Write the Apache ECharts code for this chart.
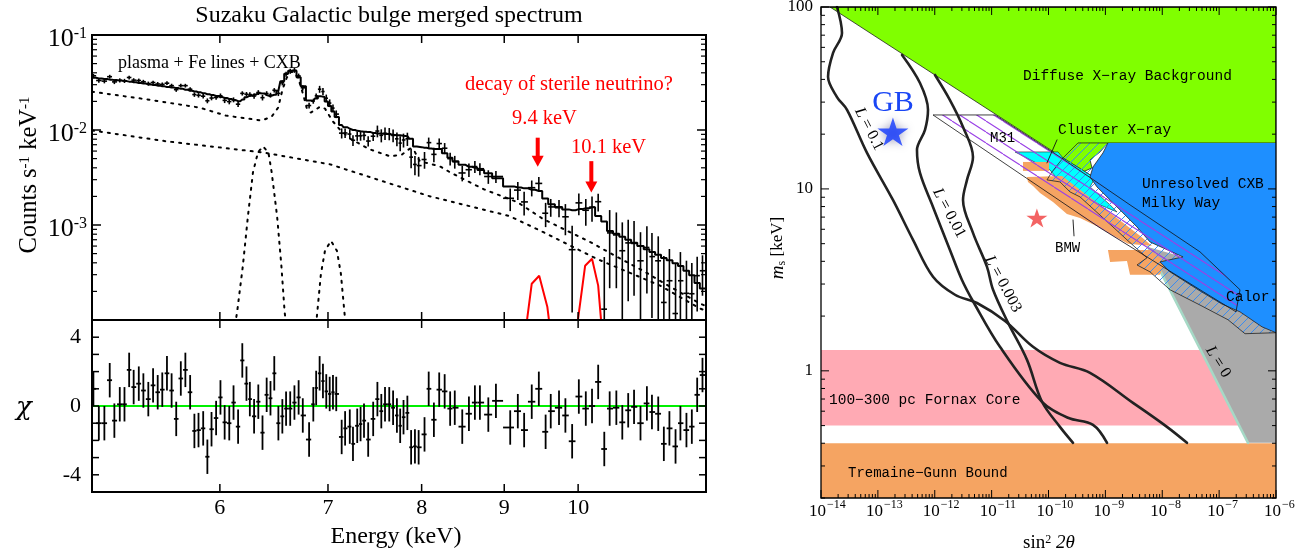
<!DOCTYPE html>
<html><head><meta charset="utf-8">
<script src="https://cdn.jsdelivr.net/npm/echarts/dist/echarts.min.js"></script>
<style>html,body{margin:0;padding:0;background:#fff}#c{width:1309px;height:555px}</style>
</head><body><div id="c"></div>
<script>
// ================= LEFT PANEL DATA (Suzaku Galactic bulge spectrum) =================
const energy = [5.01,5.049,5.089,5.128,5.162,5.202,5.237,5.272,5.306,5.345,5.380,5.418,5.455,5.491,5.527,5.564,5.601,5.638,5.675,5.712,5.751,5.786,5.820,5.859,5.894,5.929,5.968,
6.005,6.041,6.081,6.118,6.158,6.195,6.232,6.262,6.300,6.338,6.376,6.414,6.449,6.484,6.522,6.559,6.594,6.633,6.673,6.713,6.753,6.814,6.855,6.883,
6.917,6.950,6.983,7.017,7.050,7.083,7.138,7.173,7.221,7.254,7.298,7.333,7.369,7.413,7.466,
7.511,7.553,7.593,7.639,7.681,7.723,7.759,7.796,7.839,7.881,7.924,7.966,8.033,8.081,8.141,8.203,8.267,8.332,8.387,8.477,8.558,8.631,8.693,8.798,8.894,
9.077,9.176,9.259,9.360,9.455,9.547,9.617,9.731,
9.82,9.915,10.01,10.11,10.20,10.29,10.38,
10.46,10.56,10.65,10.74,10.83,10.93,11.03,11.11,11.21,11.30,11.39,11.49,11.57,11.67,11.76,11.85,11.94];

const counts = [0.0372,0.0332,0.0327,0.0364,0.0321,0.0333,0.0329,0.0357,0.0335,0.0332,0.0322,0.0308,0.0316,0.0305,0.0302,0.0311,0.0293,0.0266,0.0293,0.0293,0.0269,0.0236,0.0232,0.0227,0.0203,0.0217,0.0220,
0.0229,0.0205,0.0199,0.0208,0.0187,0.0243,0.0238,0.0236,0.0228,0.0248,0.0219,0.0242,0.0233,0.0262,0.0243,0.0314,0.0387,0.0416,0.0425,0.0371,0.0278,0.0181,0.0201,0.0229,
0.0269,0.0254,0.0216,0.0192,0.0170,0.0147,0.00927,0.00931,0.00906,0.0078,0.00867,0.00868,0.00878,0.00765,0.0086,
0.00975,0.00879,0.00924,0.00914,0.00877,0.00807,0.00728,0.00785,0.00808,0.00518,0.00434,0.00422,0.00489,0.00736,0.00554,0.0072,0.00643,0.00499,0.00463,0.00353,0.00382,0.00412,0.00391,0.00324,0.00324,
0.00191,0.00233,0.00175,0.00247,0.00274,0.00133,0.00155,0.00152,
0.00122,0.00055,0.00171,0.00143,0.00154,0.00176,0.00013,
0.000826,0.000786,0.000536,0.000648,0.00064,0.00042,0.00058,0.000465,0.00042,0.000153,0.000259,0.000117,0.000259,0.000191,0.000189,0.000293,0.00033];

const countErr = [0.00177,0.00175,0.00172,0.0017,0.00168,0.00166,0.00164,0.00162,0.00159,0.00156,0.00154,0.00151,0.00149,0.00147,0.00144,0.00142,0.0014,0.00138,0.00136,0.00133,0.0013,0.00127,0.00125,0.00122,0.00119,0.00117,0.00114,
0.00133,0.0013,0.00127,0.00124,0.00121,0.00126,0.00133,0.00138,0.00142,0.00146,0.00145,0.0014,0.00136,0.00141,0.00155,0.00196,0.00235,0.00252,0.00252,0.00216,0.00173,0.00123,0.0012,0.00129,
0.00226,0.00222,0.00199,0.00179,0.00157,0.00137,0.00113,0.00107,0.00103,0.001,0.00098,0.00097,0.00096,0.00095,0.00093,
0.00138,0.00138,0.00137,0.00135,0.00134,0.00132,0.00132,0.00131,0.00129,0.00122,0.001,0.00099,0.00098,0.00096,0.00095,0.00095,0.00086,0.00077,0.00071,0.00065,0.00062,0.0006,0.00057,0.00053,0.00047,
0.00051,0.0005,0.00049,0.00047,0.00046,0.00038,0.00033,0.00031,
0.00044,0.00043,0.00044,0.00045,0.00046,0.00037,0.00033,
0.00061,0.00057,0.00053,0.00049,0.00046,0.00042,0.00039,0.00036,0.00034,0.00032,0.0003,0.00028,0.00026,0.00023,0.00021,0.00017,0.00015];

const model = [0.0354,0.0349,0.0344,0.0339,0.0335,0.0331,0.0327,0.0323,0.0318,0.0312,0.0308,0.0302,0.0298,0.0293,0.0288,0.0284,0.0280,0.0276,0.0271,0.0265,0.0259,0.0254,0.0249,0.0243,0.0238,0.0233,0.0228,
0.0222,0.0217,0.0212,0.0206,0.0201,0.0210,0.0221,0.0230,0.0236,0.0244,0.0242,0.0233,0.0227,0.0235,0.0259,0.0326,0.0391,0.0420,0.0420,0.0360,0.0288,0.0205,0.0200,0.0215,
0.0226,0.0222,0.0199,0.0179,0.0157,0.0137,0.0113,0.0107,0.0103,0.0100,0.0098,0.0097,0.0096,0.0095,0.0093,
0.0092,0.0092,0.0091,0.0090,0.0089,0.0088,0.0088,0.0087,0.0086,0.0081,0.0067,0.0066,0.0065,0.0064,0.0063,0.0063,0.0057,0.0051,0.0047,0.0043,0.0041,0.0040,0.0038,0.0035,0.0031,
0.00255,0.00248,0.00243,0.00235,0.00228,0.00190,0.00165,0.00155,
0.00146,0.00143,0.00147,0.00150,0.00154,0.00124,0.00109,
0.000865,0.00081,0.00075,0.0007,0.00065,0.0006,0.000555,0.00052,0.000485,0.00045,0.000425,0.000395,0.00037,0.00033,0.000296,0.000245,0.000214];

const chi = [1.0,-1.0,-1.0,1.5,-0.85,0.1,0.1,2.1,1.1,1.3,0.9,0.4,1.2,0.8,0.95,1.9,0.9,-0.75,1.6,2.1,0.8,-1.45,-1.4,-1.3,-2.95,-1.35,-0.7,
0.5,-0.95,-1.0,0.2,-1.2,2.65,1.3,0.4,-0.6,0.25,-1.55,0.65,0.45,1.9,-1.0,-0.6,-0.15,-0.15,0.2,0.5,-0.55,-1.95,0.1,1.05,
1.9,1.45,0.85,0.7,0.8,0.7,-1.8,-1.3,-1.2,-2.2,-1.15,-1.05,-0.85,-1.95,-0.75,
0.4,-0.3,0.1,0.1,-0.1,-0.55,-1.15,-0.65,-0.4,-2.4,-2.35,-2.4,-1.65,1.0,-0.8,0.95,0.85,-0.15,-0.1,-1.2,-0.45,0.2,0.2,-0.5,0.3,
-1.25,-0.3,-1.4,0.25,1.0,-1.5,-0.3,-0.1,
-0.55,-2.05,0.55,-0.15,0.0,1.4,-2.5,
-0.15,-0.1,-0.95,-0.25,-0.05,-1.0,0.15,-0.35,-0.45,-2.2,-1.3,-2.35,-1.0,-1.4,-1.2,0.65,1.8];
const chiErrBar = 1;

// model components (dotted)
const plasmaE = [5.00,5.43,5.83,6.05,6.37,6.46,6.52,6.56,6.60,6.64,6.68,6.72,6.76,6.79,6.83,6.88,6.92,6.97,7.05,7.12,7.22,7.43,7.65,7.78,7.87,7.92,7.98,8.21,8.33,8.74,9.17,9.51,9.79,10.17,10.57,10.97,11.40,11.90,12.0];
const plasmaV = [0.0253,0.0208,0.0172,0.0142,0.01258,0.01384,0.0172,0.0265,0.0355,0.0410,0.0400,0.0322,0.0230,0.0172,0.01525,0.0164,0.0176,0.0168,0.01228,0.0101,0.00815,0.00625,0.00528,0.00553,0.0064,0.00595,0.00468,0.00415,0.00359,0.00238,0.00174,0.00116,0.00091,0.000664,0.000462,0.00033,0.000224,0.000149,0.00014];
const cxbE = [5.0,5.56,6.38,7.02,8.09,9.07,9.51,10.27,11.24,11.90,12.0];
const cxbV = [0.00989,0.0076,0.0058,0.00435,0.00201,0.00124,0.000845,0.00044,0.00023,0.000132,0.000125];
const fe64E = [6.10,6.15,6.20,6.245,6.29,6.335,6.38,6.43,6.46,6.51,6.55,6.58,6.62];
const fe64V = [5e-5,1.23e-4,3.72e-4,1.24e-3,3.59e-3,5.81e-3,6.72e-3,5.81e-3,3.59e-3,1.24e-3,3.72e-4,1.23e-4,5e-5];
const feKbE = [6.86,6.89,6.93,6.97,7.03,7.09,7.13,7.17,7.20];
const feKbV = [5e-5,1.09e-4,3.07e-4,5.35e-4,6.8e-4,5.35e-4,3.07e-4,1.09e-4,5e-5];
// sterile neutrino lines (red)
const nu94E = [9.28,9.30,9.36,9.46,9.57,9.59,9.61];
const nu94V = [5e-5,1.04e-4,2.41e-4,2.92e-4,1.38e-4,1.04e-4,5e-5];
const nu101E = [9.98,10.0,10.10,10.20,10.29,10.33,10.35];
const nu101V = [5e-5,1.04e-4,3.72e-4,4.41e-4,2.3e-4,1.04e-4,5e-5];
// arrows [energy, start, end]
const arrows = [[9.44,0.0083,0.0041],[10.19,0.0047,0.0022]];

const energyTicks = [6,7,8,9,10];
const countDecadeExp = [-4,-3,-2,-1];
const chiTicks = [-4,-3,-2,-1,0,1,2,3,4];
const chiLabelTicks = [-4,0,4];

// ================= RIGHT PANEL DATA (sterile neutrino parameter space) =================
const tgTop = 0.40;
const fornaxBand = [0.50, 1.30];
const dxbRegion = [[1.44e-14,100],[1e-6,100],[1e-6,17.9],[1.11e-9,17.9],[8.04e-10,15.97],[5.37e-10,14.43],[5.82e-10,13.05],[4.04e-10,12.40],[6.57e-10,11.49],[1.80e-10,14.80]];
const clusterRegion = [[2.58e-11,15.97],[1.47e-10,15.97],[1.80e-10,14.80],[6.57e-10,11.49],[5.37e-10,10.26],[1.21e-9,8.17],[1.60e-9,7.47],[8.04e-10,8.17],[3.58e-10,9.51],[1.59e-10,10.93],[1.06e-10,12.72]];
const cxbMilkyWayRegion = [[1.11e-9,17.9],[1e-6,17.9],[1e-6,1.62],[5.68e-7,1.745],[2.33e-7,2.11],[1.12e-7,2.33],[4.61e-8,2.75],[1.37e-8,3.50],[9.13e-9,3.97],[2.32e-8,4.23],[6.09e-9,5.11],[3.60e-9,6.18],[1.21e-9,8.70],[7.12e-10,10.26],[5.37e-10,11.64],[6.06e-10,13.21],[9.08e-10,15.77]];
const calorRegion = [[1.80e-10,14.80],[3.30e-10,17.9],[1.11e-9,17.9],[9.08e-10,15.77],[6.06e-10,13.21],[5.37e-10,11.64],[7.12e-10,10.26],[1.21e-9,8.70],[3.60e-9,6.18],[6.09e-9,5.11],[2.32e-8,4.23],[9.13e-9,3.97],[1.37e-8,3.50],[4.61e-8,2.75],[1.12e-7,2.33],[2.33e-7,2.11],[5.68e-7,1.745],[1e-6,1.62],
 [2.85e-7,1.60],[1.43e-7,1.91],[4.61e-8,2.30],[1.37e-8,2.79],[6.09e-9,3.50],[3.60e-9,3.82],[5.39e-9,4.18],[2.40e-9,5.25],[1.36e-9,6.18],[3.58e-10,9.04],[2.39e-10,9.63],[1.59e-10,10.93],[9.41e-11,11.21],[1.15e-10,12.40]];
const lZeroRegion = [[3.22e-7,0.402],[5.61e-9,4.80],[2.32e-8,4.23],[1e-6,1.62],[1e-6,0.402]];
const bmwTop = [[3.56e-11,14.07],[1.02e-10,14.07],[1.02e-10,12.56],[3.56e-11,12.56]];
const bmwMain = [[4.19e-11,11.64],[1.73e-10,11.79],[8.04e-10,8.17],[4.06e-9,5.52],[6.60e-9,4.86],[2.50e-9,4.99],[1.21e-9,5.66],[8.04e-10,6.11],[3.58e-10,6.93],[2.11e-10,7.29],[1.20e-10,8.48],[7.09e-11,9.51],[5.34e-11,10.39],[4.36e-11,10.93]];
const bmwLow = [[1.11e-9,4.62],[6.09e-9,4.62],[1.12e-8,3.97],[9.13e-9,3.37],[2.71e-9,3.37],[2.40e-9,4.02],[1.21e-9,3.97]];
const m31Region = [[9.32e-13,25.5],[1.15e-11,25.5],[1.59e-10,14.99],[2.71e-9,8.17],[4.61e-8,4.51],[2.33e-7,2.79],[1.98e-7,2.11],[4.61e-8,2.79],[8.04e-10,6.11]];
const curveL01 = [[1.91e-14,100],[2.34e-14,71.9],[1.63e-14,55.9],[1.33e-14,41.3],[1.91e-14,32.0],[2.87e-14,27.2],[6.44e-14,15.77],[1.84e-13,8.70],[4.15e-13,5.25],[9.32e-13,3.29],[2.27e-12,2.62],[5.53e-12,2.36],[1.72e-11,1.88],[5.34e-11,1.355],[1.59e-10,1.107],[5.37e-10,0.975],[3.06e-9,0.667],[1.21e-8,0.492],[2.72e-8,0.402]];
const curveL001 = [[2.66e-13,54.5],[5.50e-13,38.2],[7.61e-13,27.2],[6.74e-13,21.1],[4.87e-13,16.38],[5.50e-13,12.24],[9.32e-13,7.96],[1.85e-12,4.62],[3.01e-12,3.16],[4.90e-12,2.36],[1.40e-11,1.355],[7.69e-11,0.676],[2.20e-10,0.552],[6.06e-10,0.505],[1.07e-9,0.402]];
const curveL0003 = [[1.01e-12,42.3],[1.85e-12,30.8],[3.14e-12,21.9],[4.70e-12,14.99],[3.69e-12,11.21],[3.14e-12,8.70],[4.70e-12,5.73],[8.29e-12,3.73],[1.06e-11,2.79],[1.94e-11,1.84],[4.19e-11,1.149],[7.69e-11,0.676],[1.59e-10,0.492],[2.70e-10,0.402]];
const gbStar = [1.84e-13, 20.6];
const redStar = [6.25e-11, 6.93];
const clusterPointer = [[1.41e-10,18.6],[9.41e-11,13.9]];
const bmwPointer = [[2.70e-10,6.75],[2.81e-10,5.52]];
const sinDecadeExp = [-14,-13,-12,-11,-10,-9,-8,-7,-6];
const massTicks = [1,10,100];

// ================= AXIS RANGES =================
const X0MIN=5, X0MAX=12, Y0MIN=1e-4, Y0MAX=1e-1, CHIMIN=-5, CHIMAX=5;
const X2MIN=1e-14, X2MAX=1e-6, Y2MIN=0.2, Y2MAX=100;

const serif = '"Liberation Serif","Times New Roman",serif';
const mono = '"Liberation Mono","DejaVu Sans Mono",monospace';

// bin edges (geometric midpoints between neighbouring bin centres)
const edges = energy.map((e,i)=>[
  i===0 ? X0MIN : Math.sqrt(energy[i-1]*e),
  i===energy.length-1 ? X0MAX : Math.sqrt(e*energy[i+1])]);

const zip = (a,b)=>a.map((v,i)=>[v,b[i]]);

// hatch patterns
function hatch(w,h,color,lw,dir){
  const c=document.createElement('canvas'); c.width=w; c.height=h;
  const g=c.getContext('2d'); g.strokeStyle=color; g.lineWidth=lw; g.beginPath();
  for(let k=-1;k<=1;k++){
    if(dir==='/'){ g.moveTo(k*w,h); g.lineTo(k*w+w,0); }
    else { g.moveTo(k*w,0); g.lineTo(k*w+w,h); }
  }
  g.stroke(); return c;
}
const blueHatch = {image: hatch(9,9,'#3a8cf0',1,'/'), repeat:'repeat'};
const purpleHatch = {image: hatch(17,11,'#9a40e6',1.1,'\\'), repeat:'repeat'};

function lineS(ax, data, color, width, type, z, smooth){
  return {type:'line', xAxisIndex:ax, yAxisIndex:ax, data, symbol:'none', silent:true, z:z||3,
    smooth: smooth||false, clip:true,
    lineStyle:{color, width, type: type||'solid', cap:'round'}};
}
function poly(points, style, z){
  return {type:'custom', xAxisIndex:2, yAxisIndex:2, z, silent:true, clip:true, data:[points[0]],
    renderItem:(p,api)=>({type:'polygon', shape:{points: points.map(q=>api.coord(q))}, style})};
}
function frame(ax, ref, lw){
  return {type:'custom', xAxisIndex:ax, yAxisIndex:ax, z:40, silent:true, data:[ref],
    renderItem:(p,api)=>{const cs=p.coordSys; return {type:'rect', shape:{x:cs.x,y:cs.y,width:cs.width,height:cs.height}, style:{fill:'none',stroke:'#000',lineWidth:lw}};}};
}
function ticksX(ax, vals, len, yRef, lw){
  return {type:'custom', xAxisIndex:ax, yAxisIndex:ax, z:39, silent:true, data: vals.map(v=>[v,yRef]),
    renderItem:(p,api)=>{const cs=p.coordSys, x=api.coord([api.value(0),yRef])[0], b=cs.y+cs.height;
      return {type:'group', children:[
        {type:'line', shape:{x1:x,y1:b,x2:x,y2:b-len}, style:{stroke:'#000',lineWidth:lw}},
        {type:'line', shape:{x1:x,y1:cs.y,x2:x,y2:cs.y+len}, style:{stroke:'#000',lineWidth:lw}}]};}};
}
function ticksY(ax, vals, len, xRef, lw){
  return {type:'custom', xAxisIndex:ax, yAxisIndex:ax, z:39, silent:true, data: vals.map(v=>[xRef,v]),
    renderItem:(p,api)=>{const cs=p.coordSys, y=api.coord([xRef,api.value(1)])[1], r=cs.x+cs.width;
      return {type:'group', children:[
        {type:'line', shape:{x1:cs.x,y1:y,x2:cs.x+len,y2:y}, style:{stroke:'#000',lineWidth:lw}},
        {type:'line', shape:{x1:r,y1:y,x2:r-len,y2:y}, style:{stroke:'#000',lineWidth:lw}}]};}};
}
function minorLog(lo, hi){ // 2..9 x each decade between lo and hi
  const out=[]; for(let d=lo; d<hi; d++) for(let k=2;k<=9;k++) out.push(k*Math.pow(10,d)); return out;
}

const series = [];
// ---------- left top: spectrum ----------
series.push({type:'custom', xAxisIndex:0, yAxisIndex:0, z:6, silent:true, clip:true,
  data: energy.map((e,i)=>[e, counts[i], countErr[i], edges[i][0], edges[i][1]]),
  renderItem:(p,api)=>{
    const e=api.value(0), c=api.value(1), s=api.value(2), lo=api.value(3), hi=api.value(4);
    const a=api.coord([lo,c]), b=api.coord([hi,c]);
    const up=api.coord([e, Math.min(c+s, Y0MAX)]), dn=api.coord([e, Math.max(c-s, Y0MIN)]);
    return {type:'group', children:[
      {type:'line', shape:{x1:a[0],y1:a[1],x2:b[0],y2:b[1]}, style:{stroke:'#000',lineWidth:1.6}},
      {type:'line', shape:{x1:up[0],y1:up[1],x2:dn[0],y2:dn[1]}, style:{stroke:'#000',lineWidth:1.6}}]};
  }});
series.push(Object.assign(lineS(0, [[X0MIN,model[0]]].concat(zip(energy,model)).concat([[X0MAX,model[model.length-1]]]), '#000', 2, 'solid', 5), {step:'middle'}));
const dot = [2,6];
series.push(lineS(0, zip(plasmaE,plasmaV), '#000', 2, dot, 4));
series.push(lineS(0, zip(cxbE,cxbV), '#000', 2, dot, 4));
series.push(lineS(0, zip(fe64E,fe64V), '#000', 2, dot, 4));
series.push(lineS(0, zip(feKbE,feKbV), '#000', 2, dot, 4));
series.push(lineS(0, zip(nu94E,nu94V), '#ff0000', 2, 'solid', 4));
series.push(lineS(0, zip(nu101E,nu101V), '#ff0000', 2, 'solid', 4));
series.push({type:'custom', xAxisIndex:0, yAxisIndex:0, z:8, silent:true, data: arrows,
  renderItem:(p,api)=>{
    const a=api.coord([api.value(0),api.value(1)]), b=api.coord([api.value(0),api.value(2)]);
    return {type:'group', children:[
      {type:'line', shape:{x1:a[0],y1:a[1],x2:b[0],y2:b[1]-9}, style:{stroke:'#ff0000',lineWidth:4}},
      {type:'polygon', shape:{points:[[b[0]-6,b[1]-11],[b[0]+6,b[1]-11],[b[0],b[1]]]}, style:{fill:'#ff0000'}}]};
  }});
// ---------- left bottom: residuals ----------
series.push(lineS(1, [[X0MIN,0],[X0MAX,0]], '#00f000', 2.2, 'solid', 4));
series.push({type:'custom', xAxisIndex:1, yAxisIndex:1, z:6, silent:true,
  data: energy.map((e,i)=>[e, chi[i], edges[i][0], edges[i][1]]),
  renderItem:(p,api)=>{
    const e=api.value(0), c=api.value(1), lo=api.value(2), hi=api.value(3);
    const a=api.coord([lo,c]), b=api.coord([hi,c]);
    const up=api.coord([e, Math.min(c+chiErrBar, CHIMAX)]), dn=api.coord([e, Math.max(c-chiErrBar, CHIMIN)]);
    return {type:'group', children:[
      {type:'line', shape:{x1:a[0],y1:a[1],x2:b[0],y2:b[1]}, style:{stroke:'#000',lineWidth:1.8}},
      {type:'line', shape:{x1:up[0],y1:up[1],x2:dn[0],y2:dn[1]}, style:{stroke:'#000',lineWidth:1.8}}]};
  }});
// ticks & labels, left
series.push(ticksX(0, energyTicks, 8, 1e-2, 1.5));
series.push(ticksX(1, energyTicks, 8, 0, 1.5));
series.push(ticksY(0, countDecadeExp.map(k=>Math.pow(10,k)), 9, 6, 1.5));
series.push(ticksY(0, minorLog(-4,-1), 5, 6, 1.2));
series.push(ticksY(1, chiTicks, 7, 6, 1.5));
series.push(frame(0, [6,1e-2], 2));
series.push(frame(1, [6,0], 2));
series.push({type:'custom', xAxisIndex:1, yAxisIndex:1, z:41, silent:true, data: energyTicks.map(v=>[v,0]),
  renderItem:(p,api)=>{const cs=p.coordSys, x=api.coord([api.value(0),0])[0];
    return {type:'text', x, y:cs.y+cs.height+16, style:{text:String(api.value(0)), fontSize:22, fontFamily:serif, fill:'#000', align:'center', verticalAlign:'middle'}};}});
series.push({type:'custom', xAxisIndex:0, yAxisIndex:0, z:41, silent:true,
  data: countDecadeExp.filter(k=>k>-4).map(k=>[6, Math.pow(10,k), k]),
  renderItem:(p,api)=>{const cs=p.coordSys, y=api.coord([6,api.value(1)])[1];
    return {type:'text', x:cs.x-5, y:y+4, style:{text:'10{e|'+api.value(2)+'}', rich:{e:{fontSize:16, fontFamily:serif, verticalAlign:'top'}}, fontSize:26, fontFamily:serif, fill:'#000', align:'right', verticalAlign:'middle'}};}});
series.push({type:'custom', xAxisIndex:1, yAxisIndex:1, z:41, silent:true, data: chiLabelTicks.map(v=>[6,v]),
  renderItem:(p,api)=>{const cs=p.coordSys, y=api.coord([6,api.value(1)])[1];
    return {type:'text', x:cs.x-11, y, style:{text:String(api.value(1)), fontSize:22, fontFamily:serif, fill:'#000', align:'right', verticalAlign:'middle'}};}});

// ---------- right panel ----------
series.push(poly([[X2MIN,fornaxBand[0]],[X2MAX,fornaxBand[0]],[X2MAX,fornaxBand[1]],[X2MIN,fornaxBand[1]]], {fill:'#ffaab4'}, 1));
series.push(poly([[X2MIN,Y2MIN],[X2MAX,Y2MIN],[X2MAX,tgTop],[X2MIN,tgTop]], {fill:'#f5a462'}, 1));
series.push(poly(lZeroRegion, {fill:'#aaaaaa'}, 2));
series.push(lineS(2, lZeroRegion.slice(0,2), '#a6d9c6', 2.5, 'solid', 2));
series.push(poly(dxbRegion, {fill:'#80ff00', stroke:'#222', lineWidth:0.8}, 2));
series.push(poly(clusterRegion, {fill:'#00ffff', stroke:'#222', lineWidth:0.6}, 3));
series.push(poly(bmwTop, {fill:'#f5a462'}, 3));
series.push(poly(bmwMain, {fill:'#f5a462'}, 3));
series.push(poly(bmwLow, {fill:'#f5a462'}, 3));
series.push(poly(cxbMilkyWayRegion, {fill:'#1e8fff'}, 4));
series.push(poly(calorRegion, {fill:blueHatch, stroke:'#222', lineWidth:0.8}, 5));
series.push(poly(m31Region, {fill:purpleHatch, stroke:'#111', lineWidth:0.8}, 6));
series.push(lineS(2, clusterPointer, '#111', 0.9, 'solid', 7));
series.push(lineS(2, bmwPointer, '#111', 0.9, 'solid', 7));
series.push(lineS(2, curveL01, '#222', 2.6, 'solid', 8, 0.35));
series.push(lineS(2, curveL001, '#222', 2.6, 'solid', 8, 0.35));
series.push(lineS(2, curveL0003, '#222', 2.6, 'solid', 8, 0.35));
const starPath = 'path://M50 0 L61.2 34.5 L97.6 34.5 L68.2 55.9 L79.4 90.5 L50 69.1 L20.6 90.5 L31.8 55.9 L2.4 34.5 L38.8 34.5 Z';
series.push({type:'scatter', xAxisIndex:2, yAxisIndex:2, z:9, silent:true, data:[gbStar], symbol:starPath, symbolSize:[31,30], symbolKeepAspect:true,
  itemStyle:{color:'#1238ff', shadowBlur:8, shadowColor:'rgba(0,0,90,0.45)'}});
series.push({type:'scatter', xAxisIndex:2, yAxisIndex:2, z:9, silent:true, data:[redStar], symbol:starPath, symbolSize:[21,20], symbolKeepAspect:true,
  itemStyle:{color:'#f03c3c'}});
series.push(ticksX(2, sinDecadeExp.map(k=>Math.pow(10,k)), 8, 1, 1));
series.push(ticksX(2, minorLog(-14,-6), 4, 1, 1));
series.push(ticksY(2, massTicks, 8, 1e-10, 1));
series.push(ticksY(2, minorLog(-1,2), 4, 1e-10, 1));
series.push(frame(2, [1e-10,1], 1.3));
series.push({type:'custom', xAxisIndex:2, yAxisIndex:2, z:41, silent:true, data: sinDecadeExp.map(k=>[Math.pow(10,k),1,k]),
  renderItem:(p,api)=>{const cs=p.coordSys, x=api.coord([api.value(0),1])[0], y=cs.y+cs.height+14;
    return {type:'group', children:[
      {type:'text', x:x+5, y:y, style:{text:'10', fontSize:17, fontFamily:serif, fill:'#000', align:'right', verticalAlign:'middle'}},
      {type:'text', x:x+6, y:y-7, style:{text:'\u2212'+Math.abs(api.value(2)), fontSize:12, fontFamily:serif, fill:'#000', align:'left', verticalAlign:'middle'}}]};}});
series.push({type:'custom', xAxisIndex:2, yAxisIndex:2, z:41, silent:true, data: massTicks.map(v=>[1e-10,v]),
  renderItem:(p,api)=>{const cs=p.coordSys, y=api.coord([1e-10,api.value(1)])[1];
    return {type:'text', x:cs.x-8, y, style:{text:String(api.value(1)), fontSize:17, fontFamily:serif, fill:'#000', align:'right', verticalAlign:'middle'}};}});

const T = (x,y,text,o)=>Object.assign({type:'text', x, y, z:50, silent:true, style:Object.assign({text, fill:'#000', fontFamily:serif, fontSize:16, align:'left', verticalAlign:'middle'}, o||{})});
const rot = (x,y,text,deg,o)=>Object.assign(T(x,y,text,Object.assign({align:'center', rich:{i:{fontStyle:'italic', fontFamily:serif, fontSize:16}}}, o||{})), {rotation:-deg*Math.PI/180});
const graphic = [
  T(389,16,'Suzaku Galactic bulge merged spectrum',{fontSize:24, align:'center'}),
  T(118,63,'plasma + Fe lines + CXB',{fontSize:18}),
  T(465,85,'decay of sterile neutrino?',{fontSize:20.5, fill:'#ff0000'}),
  T(512,119,'9.4 keV',{fontSize:20.5, fill:'#ff0000'}),
  T(571,148,'10.1 keV',{fontSize:20.5, fill:'#ff0000'}),
  Object.assign(T(30,175,'Counts s{e|-1} keV{e|-1}',{fontSize:24.5, align:'center', rich:{e:{fontSize:15, fontFamily:serif, verticalAlign:'top'}}}),{rotation:Math.PI/2}),
  T(24,408,'\u03c7',{fontSize:26, align:'center', fontFamily:'"DejaVu Serif",serif', fontStyle:'italic'}),
  T(396,537,'Energy (keV)',{fontSize:24, align:'center'}),
  // right
  T(893,103,'GB',{fontSize:30, fill:'#1a46f5', align:'center'}),
  T(1023,76,'Diffuse X\u2212ray Background',{fontFamily:mono, fontSize:14.5}),
  T(1058,130,'Cluster X\u2212ray',{fontFamily:mono, fontSize:14.5}),
  T(1142,184,'Unresolved CXB',{fontFamily:mono, fontSize:14.5}),
  T(1142,203,'Milky Way',{fontFamily:mono, fontSize:14.5}),
  T(990,138,'M31',{fontFamily:mono, fontSize:14}),
  T(1055,248,'BMW',{fontFamily:mono, fontSize:14}),
  T(1226,297,'Calor.',{fontFamily:mono, fontSize:14.5}),
  T(829,400,'100\u2212300 pc Fornax Core',{fontFamily:mono, fontSize:14.5}),
  T(848,473,'Tremaine\u2212Gunn Bound',{fontFamily:mono, fontSize:14}),
  rot(869,129,'{i|L} = 0.1',63),
  rot(949,213,'{i|L} = 0.01',62),
  rot(1003,284,'{i|L} = 0.003',62),
  rot(1218,362,'{i|L} = 0',58),
  T(1049,543,'sin{s|2} {i|2\u03b8}',{fontSize:19, align:'center', rich:{s:{fontSize:12, fontFamily:serif, verticalAlign:'top'}, i:{fontStyle:'italic', fontSize:19, fontFamily:serif}}}),
  Object.assign(T(778,248,'{i|m}{b|s} [keV]',{fontSize:17, align:'center', rich:{i:{fontStyle:'italic', fontSize:19, fontFamily:serif}, b:{fontSize:12, fontFamily:serif, verticalAlign:'bottom'}}}),{rotation:Math.PI/2})
];

const hid = {show:false};
const option = {
  animation:false,
  grid:[
    {left:92, top:35, width:614, height:285, show:false, outerBoundsMode:'none'},
    {left:92, top:320, width:614, height:172, show:false, outerBoundsMode:'none'},
    {left:821, top:7, width:455, height:491, show:false, outerBoundsMode:'none'}
  ],
  xAxis:[
    {gridIndex:0, type:'log', min:X0MIN, max:X0MAX, axisLine:hid, axisTick:hid, axisLabel:hid, splitLine:hid},
    {gridIndex:1, type:'log', min:X0MIN, max:X0MAX, axisLine:hid, axisTick:hid, axisLabel:hid, splitLine:hid},
    {gridIndex:2, type:'log', min:X2MIN, max:X2MAX, axisLine:hid, axisTick:hid, axisLabel:hid, splitLine:hid}
  ],
  yAxis:[
    {gridIndex:0, type:'log', min:Y0MIN, max:Y0MAX, axisLine:hid, axisTick:hid, axisLabel:hid, splitLine:hid},
    {gridIndex:1, type:'value', min:CHIMIN, max:CHIMAX, axisLine:hid, axisTick:hid, axisLabel:hid, splitLine:hid},
    {gridIndex:2, type:'log', min:Y2MIN, max:Y2MAX, axisLine:hid, axisTick:hid, axisLabel:hid, splitLine:hid}
  ],
  series, graphic
};
const chart = echarts.init(document.getElementById('c'), null, {renderer:'canvas', width:1309, height:555});
chart.setOption(option);
</script></body></html>
